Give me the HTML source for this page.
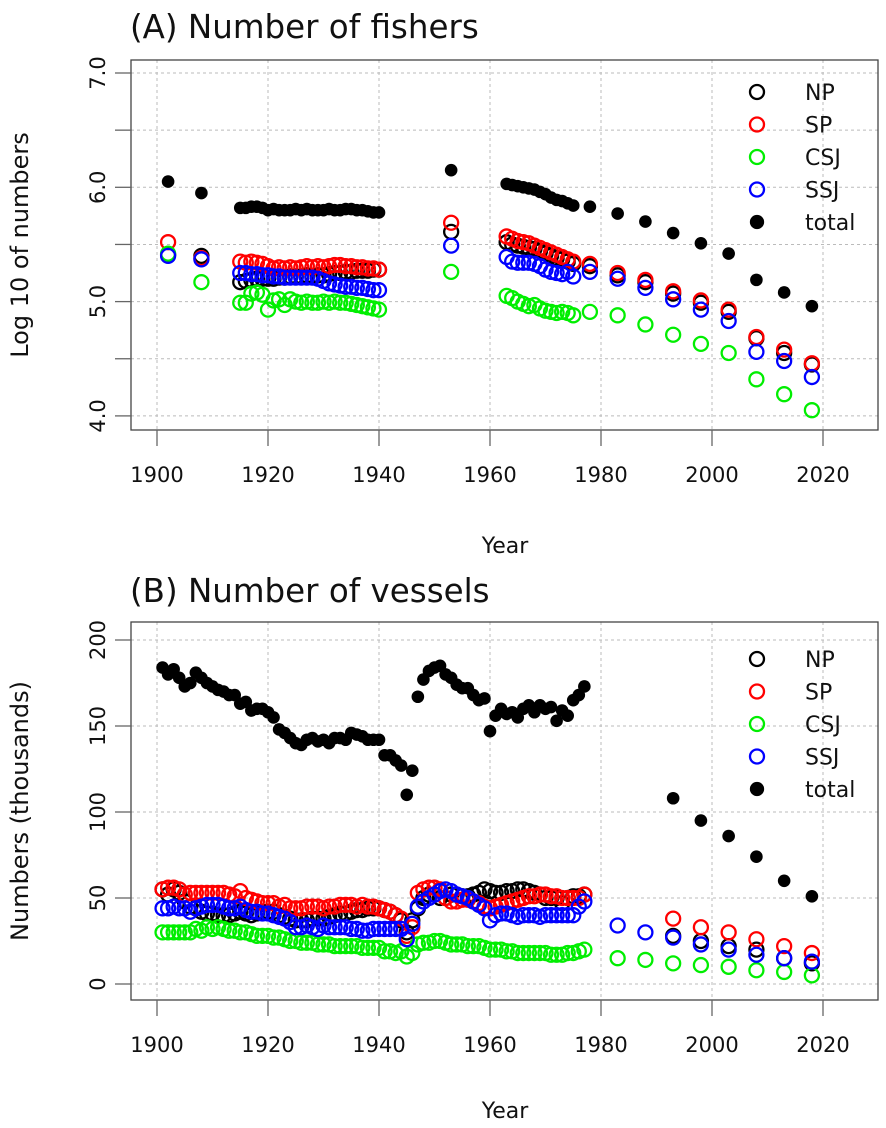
<!DOCTYPE html>
<html><head><meta charset="utf-8"><style>
body{margin:0;background:#fff;}
svg{display:block;font-family:"DejaVu Sans","Liberation Sans",sans-serif;}
</style></head><body>
<svg id="c" width="886" height="1128" viewBox="0 0 886 1128"></svg>
<script>
// ---------- Panel A data ----------
const yearsA = [1902,1908,1915,1916,1917,1918,1919,1920,1921,1922,1923,1924,1925,1926,1927,1928,1929,1930,1931,1932,1933,1934,1935,1936,1937,1938,1939,1940,1953,1963,1964,1965,1966,1967,1968,1969,1970,1971,1972,1973,1974,1975,1978,1983,1988,1993,1998,2003,2008,2013,2018];
const totalA = [6.05,5.95,5.82,5.82,5.83,5.83,5.82,5.80,5.81,5.80,5.80,5.80,5.81,5.80,5.81,5.80,5.80,5.80,5.81,5.80,5.80,5.81,5.81,5.80,5.80,5.79,5.78,5.78,6.15,6.03,6.02,6.01,6.00,5.99,5.98,5.96,5.94,5.91,5.89,5.88,5.86,5.84,5.83,5.77,5.70,5.60,5.51,5.42,5.19,5.08,4.96];
const spA = [5.52,5.38,5.35,5.34,5.35,5.34,5.33,5.31,5.29,5.30,5.29,5.30,5.29,5.30,5.31,5.30,5.31,5.30,5.31,5.32,5.32,5.31,5.31,5.30,5.30,5.29,5.29,5.28,5.69,5.57,5.55,5.53,5.52,5.51,5.49,5.47,5.45,5.43,5.41,5.39,5.37,5.35,5.33,5.25,5.19,5.09,5.01,4.93,4.69,4.58,4.46];
const npA = [5.41,5.40,5.17,5.18,5.19,5.20,5.20,5.20,5.20,5.21,5.21,5.22,5.22,5.22,5.23,5.22,5.23,5.23,5.24,5.25,5.25,5.26,5.26,5.27,5.27,5.27,5.28,5.28,5.61,5.52,5.50,5.49,5.48,5.47,5.46,5.44,5.42,5.40,5.38,5.37,5.35,5.33,5.31,5.23,5.17,5.07,4.99,4.91,4.68,4.55,4.45];
const ssjA = [5.40,5.37,5.25,5.25,5.24,5.24,5.23,5.23,5.22,5.22,5.21,5.21,5.21,5.21,5.21,5.21,5.20,5.18,5.16,5.15,5.14,5.13,5.13,5.12,5.12,5.11,5.10,5.10,5.49,5.39,5.35,5.34,5.34,5.34,5.33,5.31,5.28,5.26,5.25,5.24,5.26,5.22,5.26,5.20,5.12,5.02,4.93,4.83,4.56,4.48,4.34];
const csjA = [5.42,5.17,4.99,4.99,5.07,5.08,5.06,4.93,5.01,5.02,4.97,5.02,5.00,4.99,5.00,4.99,4.99,5.00,4.99,5.00,4.99,4.99,4.98,4.97,4.96,4.95,4.94,4.93,5.26,5.05,5.03,5.00,4.98,4.96,4.97,4.94,4.92,4.91,4.90,4.91,4.90,4.88,4.91,4.88,4.80,4.71,4.63,4.55,4.32,4.19,4.05];
const yTicksA = ["4.0","5.0","6.0","7.0"];
// ---------- Panel B data ----------
const yearsB = [1901,1902,1903,1904,1905,1906,1907,1908,1909,1910,1911,1912,1913,1914,1915,1916,1917,1918,1919,1920,1921,1922,1923,1924,1925,1926,1927,1928,1929,1930,1931,1932,1933,1934,1935,1936,1937,1938,1939,1940,1941,1942,1943,1944,1945,1946,1947,1948,1949,1950,1951,1952,1953,1954,1955,1956,1957,1958,1959,1960,1961,1962,1963,1964,1965,1966,1967,1968,1969,1970,1971,1972,1973,1974,1975,1976,1977,1983,1988,1993,1998,2003,2008,2013,2018];
const totalB = [184,180,183,178,173,175,181,178,175,173,171,170,168,168,163,164,159,160,160,158,155,148,146,143,140,139,142,143,141,142,140,143,143,142,146,145,144,142,142,142,133,133,130,127,110,124,167,177,182,184,185,180,178,174,172,172,168,165,166,147,156,160,157,158,155,160,162,158,162,160,161,153,159,156,165,168,173,null,null,108,95,86,74,60,51];
const npB = [55,52,55,53,48,45,44,42,41,41,40,40,40,41,42,41,40,41,42,42,42,40,39,38,37,37,37,38,38,38,39,40,41,41,42,43,43,44,44,44,43,42,40,37,30,37,44,50,52,52,50,50,52,52,51,51,52,53,55,54,53,53,54,54,55,55,54,53,52,50,50,50,47,50,51,51,52,null,null,28,25,22,20,15,12];
const spB = [55,56,56,55,52,53,53,53,53,53,53,53,52,51,54,50,49,48,47,47,47,45,46,44,44,44,45,45,45,44,45,45,46,46,46,45,46,45,45,44,43,42,40,38,28,33,53,55,56,56,55,50,48,48,49,49,48,47,45,44,45,46,47,48,49,50,51,51,52,52,51,51,50,50,50,50,52,null,null,38,33,30,26,22,18];
const ssjB = [44,44,45,44,44,42,44,45,46,46,46,45,44,44,45,43,42,42,41,41,40,39,38,36,33,33,34,33,32,34,33,33,33,33,32,32,31,31,32,32,32,32,32,32,26,35,45,48,50,52,54,55,54,52,51,50,48,46,44,37,40,41,41,40,39,40,40,40,39,40,40,40,40,40,40,45,48,34,30,27,23,20,17,15,13];
const csjB = [30,30,30,30,30,30,32,31,33,32,33,32,31,31,30,30,29,28,28,28,27,27,26,25,25,24,24,24,23,23,23,22,22,22,22,22,21,21,21,21,19,19,18,19,16,18,23,24,24,25,25,24,23,23,23,22,22,22,21,20,20,20,19,19,18,18,18,18,18,18,17,17,17,18,18,19,20,15,14,12,11,10,8,7,5];
const yTicksB = [0,50,100,150,200];
const xTicks = [1900,1920,1940,1960,1980,2000,2020];

const NS="http://www.w3.org/2000/svg";
const svg=document.getElementById('c');
function mk(tag,attrs,parent){const e=document.createElementNS(NS,tag);for(const k in attrs)e.setAttribute(k,attrs[k]);(parent||svg).appendChild(e);return e;}
const xScale=y=>157+(y-1900)*(823-157)/120;

function panel(cfg){
  const g=mk('g',{});
  
  
  const L=131,R=878,T=cfg.top,B=cfg.bottom;
  cfg.grid.forEach(v=>{const gy=cfg.ys(v);const l=mk('line',{x1:L,x2:R,y1:gy,y2:gy,stroke:'#bbb','stroke-dasharray':'3,3','stroke-width':1},g);});
  xTicks.forEach(t=>{const gx=xScale(t);const l=mk('line',{x1:gx,x2:gx,y1:T,y2:B,stroke:'#bbb','stroke-dasharray':'3,3','stroke-width':1},g);});
  const box=mk('rect',{x:L,y:T,width:R-L,height:B-T,fill:'none',stroke:'#444','stroke-width':1.3},g);
  
  xTicks.forEach(t=>{const gx=xScale(t);mk('line',{x1:gx,x2:gx,y1:B,y2:B+16,stroke:'#666','stroke-width':1.3},g);
    const tx=mk('text',{x:gx,y:B+52,'font-size':21,'text-anchor':'middle',fill:'#111'},g);tx.textContent=t;
    });
  cfg.yTicks.forEach(t=>{const gy=cfg.ys(+t);mk('line',{x1:L-16,x2:L,y1:gy,y2:gy,stroke:'#666','stroke-width':1.3},g);
    const tx=mk('text',{x:0,y:0,'font-size':21,'text-anchor':'middle',fill:'#111',transform:`translate(${L-26},${gy}) rotate(-90)`},g);tx.textContent=t;
    });
  cfg.minorY.forEach(v=>{const gy=cfg.ys(v);mk('line',{x1:L-16,x2:L,y1:gy,y2:gy,stroke:'#666','stroke-width':1.3},g);});
  const ttl=mk('text',{x:130,y:cfg.titleY,'font-size':32.5,fill:'#111'},g);ttl.textContent=cfg.title;
  
  const xl=mk('text',{x:505,y:cfg.xlabY,'font-size':22,'text-anchor':'middle',fill:'#111'},g);xl.textContent='Year';
  
  const yl=mk('text',{x:0,y:0,'font-size':24,'text-anchor':'middle',fill:'#111',transform:`translate(28,${(T+B)/2}) rotate(-90)`},g);yl.textContent=cfg.ylab;
  
  const series=[['np','#000',cfg.np],['sp','#f00',cfg.sp],['csj','#0e0',cfg.csj],['ssj','#00f',cfg.ssj]];
  series.forEach(([n,col,vals])=>{
    vals.forEach((v,i)=>{if(v==null)return;
      const c=mk('circle',{cx:xScale(cfg.years[i]),cy:cfg.ys(v),r:7,fill:'none',stroke:col,'stroke-width':2.3},g);
      
      });
  });
  cfg.total.forEach((v,i)=>{if(v==null)return;
    const c=mk('circle',{cx:xScale(cfg.years[i]),cy:cfg.ys(v),r:6.3,fill:'#000'},g);
    
    });
  const leg=[['NP','#000',false],['SP','#f00',false],['CSJ','#0e0',false],['SSJ','#00f',false],['total','#000',true]];
  leg.forEach((e,i)=>{const ly=cfg.legY+i*32.5;
    const m=mk('circle',{cx:757,cy:ly,r:e[2]?6:7,fill:e[2]?'#000':'none',stroke:e[1],'stroke-width':2.3},g);
    
    const t=mk('text',{x:805,y:ly+8,'font-size':22,fill:'#111'},g);t.textContent=e[0];
    });
}
panel({name:'panel-a-fishers',top:60,bottom:430,title:'(A) Number of fishers',titleY:38,xlabY:553,ylab:'Log 10 of numbers',
  ys:v=>73+(7-v)*114.3,yTicks:yTicksA,minorY:[4.5,5.5,6.5],grid:[4,4.5,5,5.5,6,6.5,7],
  years:yearsA,total:totalA,np:npA,sp:spA,csj:csjA,ssj:ssjA,legY:92});
panel({name:'panel-b-vessels',top:622,bottom:1000,title:'(B) Number of vessels',titleY:602,xlabY:1118,ylab:'Numbers (thousands)',
  ys:v=>984-v*1.72,yTicks:yTicksB,minorY:[],grid:[0,50,100,150,200],
  years:yearsB,total:totalB,np:npB,sp:spB,csj:csjB,ssj:ssjB,legY:659});
</script>
</body></html>
